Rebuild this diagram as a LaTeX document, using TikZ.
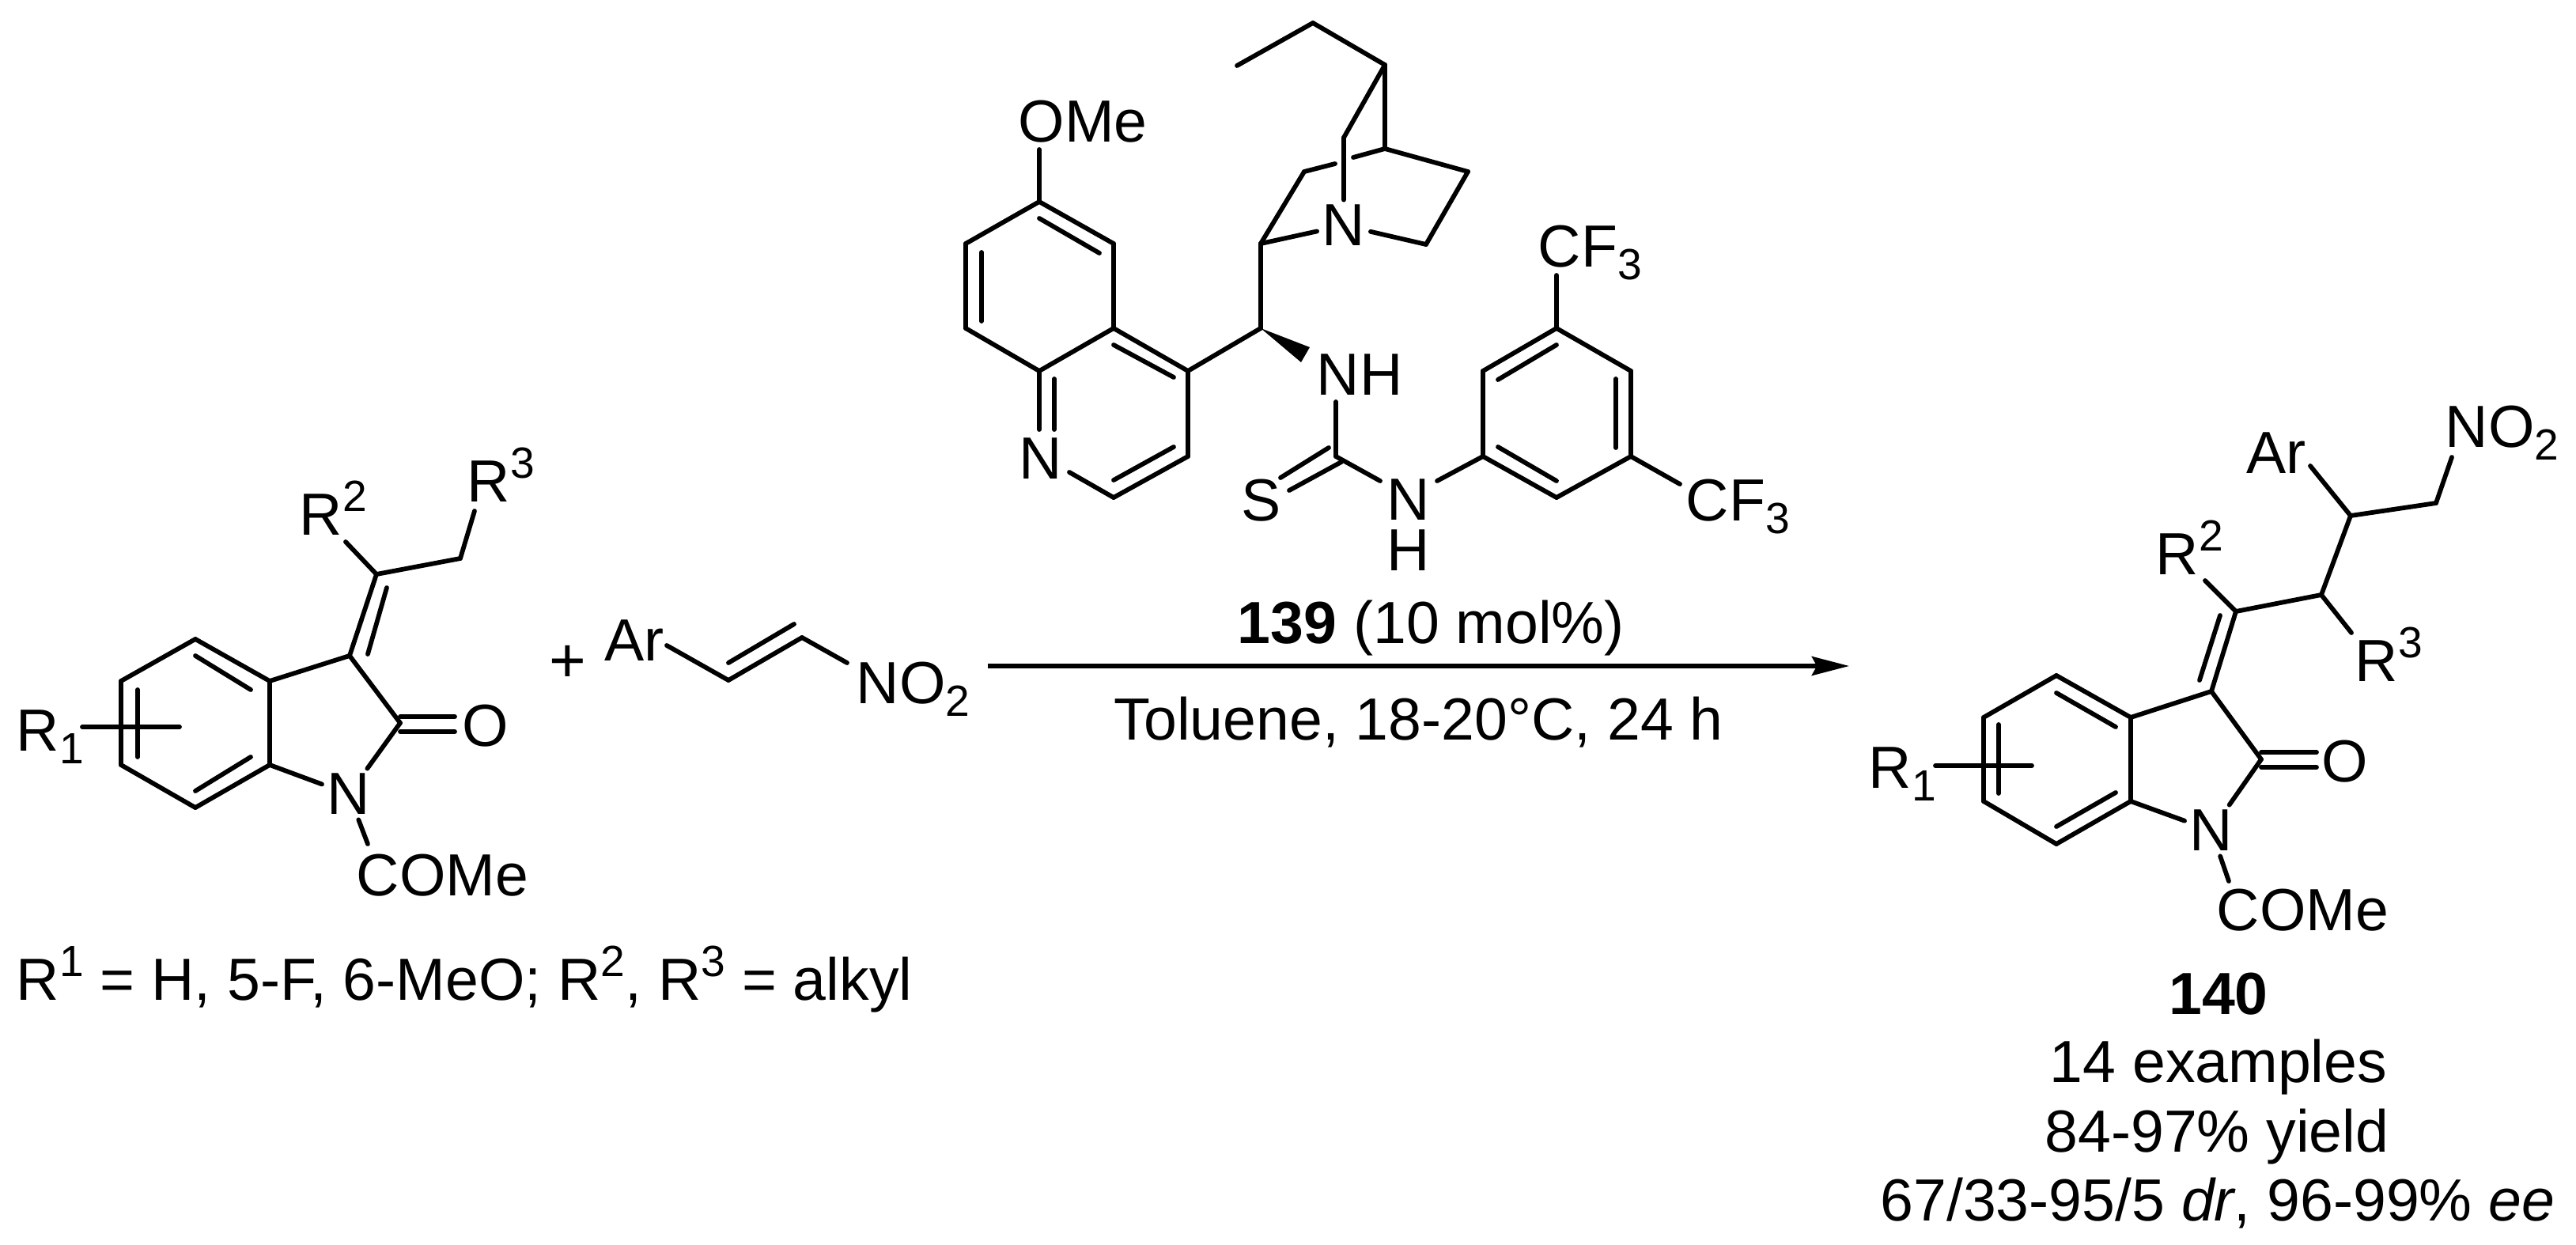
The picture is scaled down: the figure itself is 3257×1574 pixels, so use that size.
\documentclass[tikz,border=0pt]{standalone}
\usepackage{fontspec}
\setmainfont{Liberation Sans}
\usetikzlibrary{arrows.meta}
\newcommand{\chemfont}{\fontsize{18.8}{22}\selectfont}
\newcommand{\lsub}[1]{\raisebox{-4.2pt}{\fontsize{13.8}{13.8}\selectfont #1}}
\newcommand{\lsup}[1]{\raisebox{7.3pt}{\fontsize{13.8}{13.8}\selectfont #1}}
\tikzstyle{atomlabel}=[font=\chemfont,text height=12.8pt,text depth=0pt,inner sep=1.5pt]
\tikzstyle{grouplabel}=[font=\chemfont,anchor=base west,inner sep=0pt]
\tikzstyle{textlabel}=[font=\chemfont,anchor=base,inner sep=0pt]
\tikzstyle{bond}=[line width=1.45pt,line cap=round,line join=round]
\tikzstyle{rxnarrow}=[line width=1.3pt,-{Stealth[length=11.8pt,width=6pt,inset=1.6pt]}]

\begin{document}
\begin{tikzpicture}[x=0.25pt,y=-0.25pt]
    \useasboundingbox (0,0) rectangle (3257,1574);

    % substrate
    \coordinate (l1) at (247,808); \coordinate (l2) at (153,861); \coordinate (l3) at (153,967);
    \coordinate (l4) at (247,1021); \coordinate (l5) at (341,967); \coordinate (l6) at (341,861);
    \coordinate (l7) at (442,829); \coordinate (l8) at (506,914);
    \coordinate (l9) at (476,726); \coordinate (l10) at (582,706);
    \coordinate (li1) at (247,829); \coordinate (li2) at (317,872);
    \coordinate (li3) at (174,872); \coordinate (li4) at (174,957);
    \coordinate (li5) at (247,1000); \coordinate (li6) at (317,957);
    \coordinate (li7) at (465,827); \coordinate (li8) at (489,743);
    \coordinate (lo1) at (506,906); \coordinate (lo2) at (575,906);
    \coordinate (lo3) at (506,925); \coordinate (lo4) at (575,925);
    \coordinate (lr1a) at (104,919); \coordinate (lr1b) at (227,919);
    \coordinate (lr2) at (437,685); \coordinate (lr3) at (600,646);
    \coordinate (lac) at (465,1067);
    \node[atomlabel] (lN) at (441,1004) {N};
    \node[atomlabel] (lO) at (614,918) {O};
    \node[grouplabel] (lCOMe) at (450,1132) {COMe};
    \node[grouplabel] (lR1) at (20,949) {R\lsub{1}};
    \node[grouplabel] (lR2) at (378,676) {R\lsup{2}};
    \node[grouplabel] (lR3) at (590,634) {R\lsup{3}};
    \node[grouplabel] (lnote) at (20,1264) {R\lsup{1} = H, 5-F, 6-MeO; R\lsup{2}, R\lsup{3} = alkyl};

    \foreach \from/\to in {l1/l2,l2/l3,l3/l4,l4/l5,l5/l6,l6/l1,l6/l7,l7/l8,l7/l9,l9/l10,
        li1/li2,li3/li4,li5/li6,li7/li8,lo1/lo2,lo3/lo4,lr1a/lr1b,l9/lr2,l10/lr3,
        l8/lN,l5/lN,lN/lac}
    \draw[bond] (\from) -- (\to);

    % nitroalkene
    \node[font=\fontsize{20}{22}\selectfont,inner sep=0pt] (plus) at (718,839) {+};
    \node[grouplabel] (sAr) at (764,835) {Ar};
    \node[grouplabel] (sNO) at (1082,889) {NO\lsub{2}};
    \coordinate (s1) at (843,816); \coordinate (s2) at (921,860); \coordinate (s3) at (1014,806);
    \coordinate (s4) at (1071,838); \coordinate (si1) at (921,838); \coordinate (si2) at (1004,789);
    \foreach \from/\to in {s1/s2,s2/s3,s3/s4,si1/si2}
    \draw[bond] (\from) -- (\to);

    % catalyst, quinoline part
    \coordinate (q1) at (1314,255); \coordinate (q2) at (1408,308); \coordinate (q3) at (1408,415);
    \coordinate (q4) at (1314,469); \coordinate (q5) at (1221,415); \coordinate (q6) at (1221,308);
    \coordinate (q7) at (1502,469); \coordinate (q8) at (1502,577); \coordinate (q9) at (1408,629);
    \coordinate (qi1) at (1314,276); \coordinate (qi2) at (1390,320);
    \coordinate (qi3) at (1241,319); \coordinate (qi4) at (1241,406);
    \coordinate (qi5) at (1408,436); \coordinate (qi6) at (1484,477);
    \coordinate (qi7) at (1333,479); \coordinate (qi8) at (1333,543);
    \coordinate (qi9) at (1408,607); \coordinate (qi10) at (1484,565);
    \coordinate (qi11) at (1314,543); \coordinate (qi12) at (1352,597);
    \coordinate (qo) at (1314,189);
    \node[grouplabel] (qOMe) at (1287,179) {OMe};
    \node[atomlabel] (qN) at (1316,580) {N};
    \foreach \from/\to in {q1/q2,q2/q3,q3/q4,q4/q5,q5/q6,q6/q1,q3/q7,q7/q8,q8/q9,
        qi1/qi2,qi3/qi4,qi5/qi6,qi7/qi8,qi9/qi10,q4/qi11,q9/qi12,q1/qo}
    \draw[bond] (\from) -- (\to);

    % catalyst, quinuclidine part
    \coordinate (n1) at (1564,83); \coordinate (n2) at (1660,29); \coordinate (n3) at (1751,82);
    \coordinate (n4) at (1699,174); \coordinate (n5) at (1751,188); \coordinate (n6) at (1856,217);
    \coordinate (n7) at (1803,309); \coordinate (n8) at (1594,308); \coordinate (n9) at (1649,217);
    \coordinate (gapa) at (1688,207); \coordinate (gapb) at (1711,199);
    \coordinate (n10) at (1594,415);
    \node[atomlabel] (nN) at (1699,285) {N};
    \foreach \from/\to in {n1/n2,n2/n3,n3/n4,n3/n5,n5/n6,n6/n7,n8/n9,n9/gapa,gapb/n5,n8/n10,
        n4/nN,n7/nN,n8/nN,q7/n10}
    \draw[bond] (\from) -- (\to);

    % catalyst, thiourea and aryl part
    \coordinate (w1) at (1656,439); \coordinate (w2) at (1645,458);
    \fill (n10) -- (w1) -- (w2) -- cycle;
    \coordinate (t1) at (1689,508); \coordinate (t2) at (1689,577);
    \coordinate (t3) at (1680,566); \coordinate (t4) at (1619,604);
    \coordinate (t5) at (1696,584); \coordinate (t6) at (1630,620);
    \coordinate (t7) at (1745,608); \coordinate (t8) at (1817,608);
    \node[grouplabel] (tNH) at (1664,499) {NH};
    \node[atomlabel] (tS) at (1595,633) {S};
    \node[font=\fontsize{18.8}{16}\selectfont,align=center,inner sep=0pt] (tN) at (1781,664) {N\\H};
    \coordinate (r1) at (1968,415); \coordinate (r2) at (2062,469); \coordinate (r3) at (2062,577);
    \coordinate (r4) at (1968,629); \coordinate (r5) at (1875,577); \coordinate (r6) at (1875,469);
    \coordinate (ri1) at (1968,436); \coordinate (ri2) at (1894,480);
    \coordinate (ri3) at (2043,479); \coordinate (ri4) at (2043,566);
    \coordinate (ri5) at (1968,608); \coordinate (ri6) at (1894,565);
    \coordinate (rf1) at (1968,348); \coordinate (rf2) at (2124,612);
    \node[grouplabel] (rCF1) at (1944,337) {CF\lsub{3}};
    \node[grouplabel] (rCF2) at (2131,658) {CF\lsub{3}};
    \foreach \from/\to in {t1/t2,t3/t4,t5/t6,t2/t7,t8/r5,r1/r2,r2/r3,r3/r4,r4/r5,r5/r6,r6/r1,
        ri1/ri2,ri3/ri4,ri5/ri6,r1/rf1,r3/rf2}
    \draw[bond] (\from) -- (\to);

    % arrow
    \coordinate (a1) at (1249,842); \coordinate (a2) at (2338,842);
    \draw[rxnarrow] (a1) -- (a2);
    \node[grouplabel] (cat) at (1564,813) {\textbf{139} (10 mol\%)};
    \node[grouplabel] (cond) at (1408,935) {Toluene, 18-20°C, 24 h};

    % product
    \coordinate (p1) at (2600,854); \coordinate (p2) at (2508,907); \coordinate (p3) at (2508,1013);
    \coordinate (p4) at (2600,1067); \coordinate (p5) at (2694,1013); \coordinate (p6) at (2694,907);
    \coordinate (p7) at (2796,874); \coordinate (p8) at (2859,960); \coordinate (p9) at (2827,773);
    \coordinate (p10) at (2935,752); \coordinate (p11) at (2972,652); \coordinate (p12) at (3080,636);
    \coordinate (pi1) at (2600,876); \coordinate (pi2) at (2675,919);
    \coordinate (pi3) at (2527,916); \coordinate (pi4) at (2527,1003);
    \coordinate (pi5) at (2600,1045); \coordinate (pi6) at (2675,1002);
    \coordinate (pi7) at (2807,778); \coordinate (pi8) at (2781,860);
    \coordinate (po1) at (2859,951); \coordinate (po2) at (2929,951);
    \coordinate (po3) at (2859,970); \coordinate (po4) at (2929,970);
    \coordinate (pr1a) at (2447,968); \coordinate (pr1b) at (2569,968);
    \coordinate (pr2) at (2788,734); \coordinate (pr3) at (2973,800);
    \coordinate (par) at (2921,589); \coordinate (pno) at (3100,578);
    \coordinate (pac) at (2818,1114);
    \node[atomlabel] (pN) at (2796,1050) {N};
    \node[atomlabel] (pO) at (2965,963) {O};
    \node[grouplabel] (pCOMe) at (2802,1176) {COMe};
    \node[grouplabel] (pR1) at (2362,996) {R\lsub{1}};
    \node[grouplabel] (pR2) at (2725,726) {R\lsup{2}};
    \node[grouplabel] (pR3) at (2977,861) {R\lsup{3}};
    \node[grouplabel] (pAr) at (2840,598) {Ar};
    \node[grouplabel] (pNO) at (3091,565) {NO\lsub{2}};
    \foreach \from/\to in {p1/p2,p2/p3,p3/p4,p4/p5,p5/p6,p6/p1,p6/p7,p7/p8,p7/p9,p9/p10,
        p10/p11,p11/p12,pi1/pi2,pi3/pi4,pi5/pi6,pi7/pi8,po1/po2,po3/po4,pr1a/pr1b,
        p9/pr2,p10/pr3,p11/par,p12/pno,p8/pN,p5/pN,pN/pac}
    \draw[bond] (\from) -- (\to);

    \node[textlabel] (pnum) at (2805,1282) {\textbf{140}};
    \node[textlabel] (pex) at (2805,1368) {14 examples};
    \node[textlabel] (pyield) at (2803,1456) {84-97\% yield};
    \node[textlabel] (pdr) at (2804,1543) {67/33-95/5 \textit{dr}, 96-99\% \textit{ee}};
\end{tikzpicture}
\end{document}
